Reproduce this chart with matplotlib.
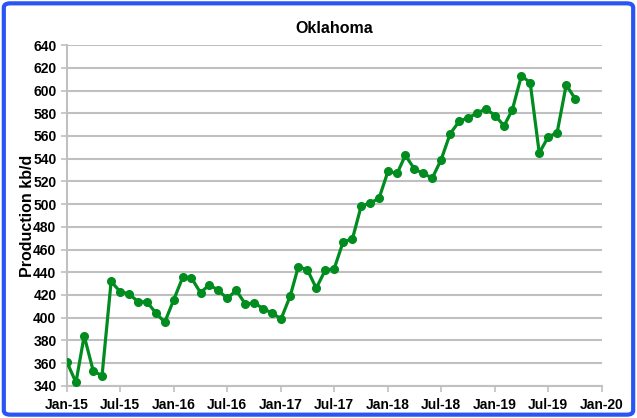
import numpy as np
import pandas as pd
import matplotlib
matplotlib.use("Agg")
import matplotlib.pyplot as plt
import matplotlib.dates as mdates
from matplotlib.patches import FancyBboxPatch

plt.rcParams['font.family'] = ['Liberation Sans', 'DejaVu Sans']

months = pd.date_range("2015-01-01", "2019-10-01", freq="MS")
production = [361, 343, 384, 353, 349, 432, 423, 421, 414, 414, 404, 396,
              416, 436, 435, 422, 429, 424, 417, 424, 412, 413, 408, 404,
              399, 419, 445, 442, 426, 442, 443, 467, 469, 498, 501, 505,
              529, 527, 543, 531, 527, 523, 539, 562, 573, 576, 580, 584,
              578, 569, 583, 613, 607, 545, 559, 563, 605, 593]
tickDates = pd.date_range("2015-01-01", "2020-01-01", freq="6MS")

fig = plt.figure(figsize=(6.37, 4.18), dpi=100)
ax = fig.add_axes([0.105, 0.077, 0.84, 0.815])

ax.plot(months, production, color="#008c1e", linewidth=2.3, marker="o",
        markersize=5.5, zorder=3)

ax.set_xlim(tickDates[0], tickDates[-1])
ax.set_ylim(340, 640)
ax.set_yticks(np.arange(340, 641, 20))
ax.set_xticks(tickDates)
ax.xaxis.set_major_formatter(mdates.DateFormatter("%b-%y"))

ax.grid(axis="y", color="#c0c0c0", linewidth=1.5)
ax.set_axisbelow(True)
for s in ["top", "right"]:
    ax.spines[s].set_visible(False)
for s in ["left", "bottom"]:
    ax.spines[s].set_color("#c0c0c0")
    ax.spines[s].set_linewidth(1.5)
ax.tick_params(axis="both", colors="#c0c0c0", labelcolor="black", length=4,
               width=1.2, labelsize=10)
ax.tick_params(axis="x", pad=5)
for lbl in ax.get_xticklabels() + ax.get_yticklabels():
    lbl.set_fontweight("bold")

ax.set_ylabel("Production kb/d", fontsize=11.5, fontweight="bold", labelpad=-1)
ax.set_title("Oklahoma", fontsize=11.5, fontweight="bold", pad=9)

border = FancyBboxPatch((0.006, 0.008), 0.988, 0.984, transform=fig.transFigure,
                        boxstyle="round,pad=0,rounding_size=0.01",
                        facecolor="none", edgecolor="#2a55f5", linewidth=3)
fig.patches.append(border)

fig.savefig("out.png", dpi=100)
